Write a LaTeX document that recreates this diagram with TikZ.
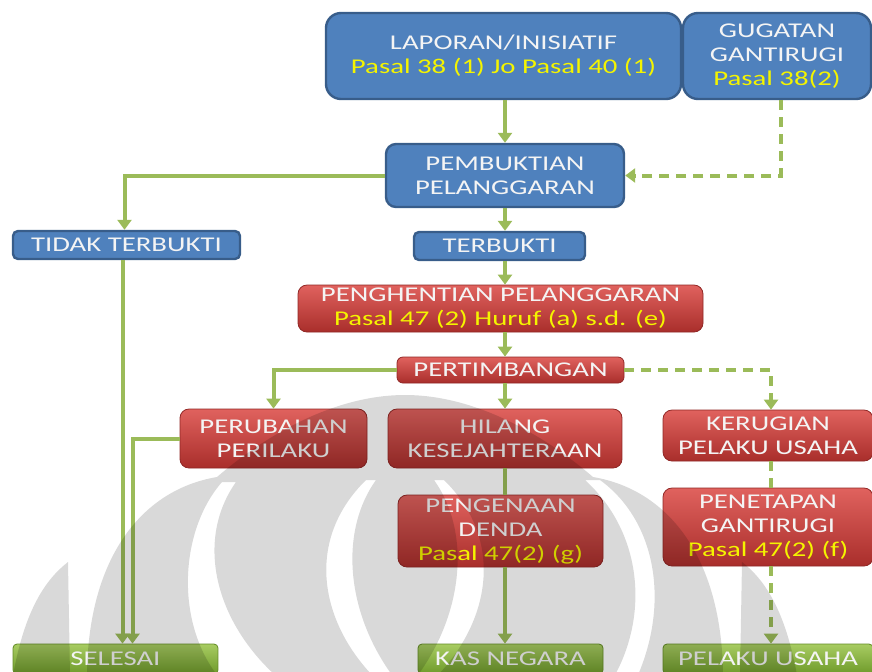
\documentclass[tikz,border=0pt]{standalone}
\usepackage{fontspec}
\setmainfont{Carlito}[FakeStretch=1.37]
\usetikzlibrary{arrows.meta}

\definecolor{boxblue}{HTML}{4F81BD}
\definecolor{lineblue}{HTML}{385D8A}
\definecolor{redtop}{HTML}{E0625E}
\definecolor{redbot}{HTML}{A92E2B}
\definecolor{greentop}{HTML}{A8CC62}
\definecolor{greenbot}{HTML}{6E9A2A}
\definecolor{linkgreen}{HTML}{9BBB59}
\definecolor{pasalyellow}{HTML}{F4F400}
\definecolor{boxtext}{HTML}{F4F4F4}

\newcommand{\pasal}[1]{\textcolor{pasalyellow}{#1}}

\tikzset{
  box/.style={rectangle, align=center, text=boxtext, inner sep=0pt,
    font=\fontsize{10.5}{12}\selectfont},
  bluebox/.style={box, fill=boxblue, draw=lineblue, line width=1.2pt},
  redbox/.style={box, rounded corners=4.5pt, top color=redtop, bottom color=redbot,
    draw=redbot!85!black, line width=0.4pt},
  greenbox/.style={box, rounded corners=2pt, top color=greentop, bottom color=greenbot,
    draw=greenbot!90!black, line width=0.4pt},
  link/.style={draw=linkgreen, line width=2pt},
  arr/.style={link, -{Triangle[width=7pt,length=5pt]}},
  dashlink/.style={link, dash pattern=on 5pt off 3.5pt},
}

\begin{document}
\begin{tikzpicture}[x=0.5pt,y=-0.5pt]
	\useasboundingbox (0,0) rectangle (872,671);

	%blue boxes
	\node[bluebox, rounded corners=7.5pt, minimum width=177.5pt, minimum height=43pt] (lapor) at (503.5,56) {LAPORAN/INISIATIF\\\pasal{Pasal 38 (1) Jo Pasal 40 (1)}};
	\node[bluebox, rounded corners=7.5pt, minimum width=94pt, minimum height=43pt] (gugat) at (777,56) {GUGATAN\\GANTIRUGI\\\pasal{Pasal 38(2)}};
	\node[bluebox, rounded corners=5pt, minimum width=119pt, minimum height=31.5pt] (bukti) at (505,175.5) {PEMBUKTIAN\\PELANGGARAN};
	\node[bluebox, rounded corners=2.5pt, minimum width=113.5pt, minimum height=14pt] (tidak) at (126.5,245) {TIDAK TERBUKTI};
	\node[bluebox, rounded corners=2.5pt, minimum width=85.5pt, minimum height=14pt] (terbukti) at (499.5,246) {TERBUKTI};

	%red boxes
	\node[redbox, minimum width=202.5pt, minimum height=23.5pt] (henti) at (500.5,308.5) {PENGHENTIAN PELANGGARAN\\\pasal{Pasal 47 (2) Huruf (a) s.d. (e)}};
	\node[redbox, rounded corners=3pt, minimum width=113.5pt, minimum height=13pt] (timbang) at (510.5,370) {PERTIMBANGAN};
	\node[redbox, minimum width=93.5pt, minimum height=29.5pt] (ubah) at (273.5,438.5) {PERUBAHAN\\PERILAKU};
	\node[redbox, minimum width=117pt, minimum height=29.5pt] (hilang) at (505,438.5) {HILANG\\KESEJAHTERAAN};
	\node[redbox, minimum width=105pt, minimum height=25.5pt] (rugi) at (768,435.5) {KERUGIAN\\PELAKU USAHA};
	\node[redbox, minimum width=102.5pt, minimum height=36pt] (denda) at (500.5,531) {PENGENAAN\\DENDA\\\pasal{Pasal 47(2) (g)}};
	\node[redbox, minimum width=105pt, minimum height=39pt] (tetap) at (768,527) {PENETAPAN\\GANTIRUGI\\\pasal{Pasal 47(2) (f)}};

	%green boxes
	\node[greenbox, minimum width=102.5pt, minimum height=15pt] (selesai) at (115.5,659) {SELESAI};
	\node[greenbox, minimum width=92.5pt, minimum height=15pt] (kas) at (510.5,659) {KAS NEGARA};
	\node[greenbox, minimum width=105pt, minimum height=15pt] (pelaku) at (768,659) {PELAKU USAHA};

	%connectors
	\draw[arr] (lapor.south -| bukti) -- (bukti.north);
	\draw[dashlink, arr] ([xshift=2pt]gugat.south) |- (bukti.east);
	\draw[arr] (bukti.west) -| ([xshift=-1pt]tidak.north);
	\draw[arr] (bukti.south) -- (bukti.south |- terbukti.north);
	\draw[arr] (terbukti.south -| bukti) -- (bukti |- henti.north);
	\draw[arr] (henti.south -| bukti) -- (bukti |- timbang.north);
	\draw[arr] (timbang.west) -| (ubah.north);
	\draw[arr] (timbang.south -| bukti) -- (bukti |- hilang.north);
	\draw[dashlink, arr] (timbang.east) -| ([xshift=1.5pt]rugi.north);
	\draw[arr] ([xshift=-2pt]tidak.south) -- ([xshift=-2pt]tidak.south |- selesai.north);
	\coordinate (lajur) at ([xshift=3pt]tidak.south |- ubah.west);
	\draw[arr] (ubah.west) -- (lajur) -- (lajur |- selesai.north);
	\draw[link] (hilang.south -| bukti) -- (bukti |- denda.north);
	\draw[arr] (denda.south -| bukti) -- (bukti |- kas.north);
	\draw[dashlink] ([xshift=1.5pt]rugi.south) -- ([xshift=1.5pt]tetap.north);
	\draw[dashlink, arr] ([xshift=1.5pt]tetap.south) -- ([xshift=1.5pt]pelaku.north);

	%watermark
	\fill[black, fill opacity=0.15, even odd rule]
	  (13,675) .. controls (25,610) and (45,580) .. (68,562) -- (70,675) -- cycle
	  (797,675) .. controls (785,610) and (765,580) .. (742,562) -- (740,675) -- cycle
	  (87,675) .. controls (88,560) and (140,490) .. (217,477) .. controls (260,440) and (330,395) .. (405,395)
	    .. controls (480,395) and (550,440) .. (593,477) .. controls (670,490) and (722,560) .. (723,675) -- cycle
	  (222,482) .. controls (180,530) and (175,620) .. (217,675) -- (275,675) .. controls (215,620) and (195,540) .. (236,482) -- cycle
	  (366,480) .. controls (305,540) and (320,620) .. (372,675) -- (392,675) .. controls (345,610) and (340,530) .. (376,480) -- cycle
	  (444,480) .. controls (505,540) and (490,620) .. (438,675) -- (418,675) .. controls (465,610) and (470,530) .. (434,480) -- cycle
	  (585,480) .. controls (640,530) and (650,610) .. (615,675) -- (638,675) .. controls (670,600) and (655,520) .. (600,480) -- cycle;
\end{tikzpicture}
\end{document}
